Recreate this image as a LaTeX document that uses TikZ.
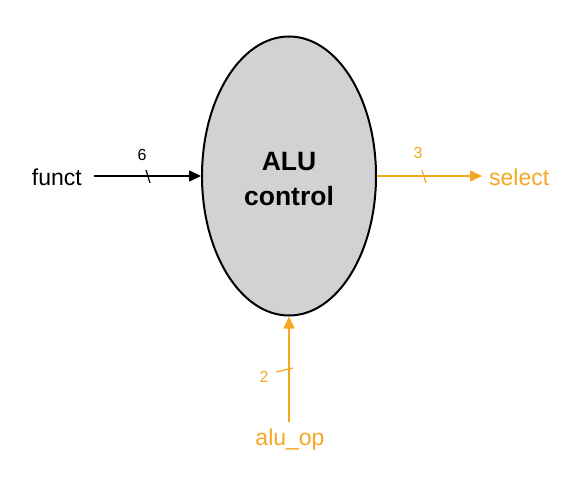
\documentclass[tikz,border=0pt]{standalone}
\usepackage{fontspec}
\setmainfont{Liberation Sans}
\usetikzlibrary{arrows.meta,shapes.geometric}
\definecolor{aluorange}{RGB}{245,166,35}
\definecolor{alugray}{RGB}{209,210,212}
\tikzset{
  sig/.style={line width=1.5pt,-{Triangle[length=12pt,width=11pt]}},
  lbl/.style={font=\fontsize{23}{26}\selectfont,inner sep=0pt},
  num/.style={font=\fontsize{16}{18}\selectfont,inner sep=0pt},
  tick/.style={line width=1.2pt},
}
\begin{document}
\begin{tikzpicture}[x=1pt,y=-1pt]
\useasboundingbox (0,0) rectangle (585,484);
\node[ellipse,draw,line width=2pt,fill=alugray,minimum width=174pt,minimum height=279pt,inner sep=0pt] (alu) at (289,176) {};
\node[font=\bfseries\fontsize{26.5}{35}\selectfont,align=center] (alut) at (289,179) {ALU\\control};
% funct
\node[lbl,anchor=east] (funct) at (82,177) {funct};
\coordinate (fs) at (94,176);
\draw[sig] (fs) -- (alu.west);
\coordinate (f1) at (146,170);
\coordinate (f2) at (150,183);
\draw[tick] (f1) -- (f2);
\node[num] (n6) at (142,155) {6};
% select
\node[lbl,anchor=west,text=aluorange] (sel) at (489,177) {select};
\coordinate (se) at (482,176);
\draw[sig,aluorange] (alu.east) -- (se);
\coordinate (s1) at (422,170);
\coordinate (s2) at (426,183);
\draw[tick,aluorange] (s1) -- (s2);
\node[num,text=aluorange] (n3) at (418,153) {3};
% alu_op
\node[lbl,text=aluorange] (aluop) at (290,440) {alu\_op};
\coordinate (as) at (289,422);
\draw[sig,aluorange] (as) -- (alu.south);
\coordinate (a1) at (276,372);
\coordinate (a2) at (293,368);
\draw[tick,aluorange] (a1) -- (a2);
\node[num,text=aluorange] (n2) at (264,377) {2};
\end{tikzpicture}
\end{document}
